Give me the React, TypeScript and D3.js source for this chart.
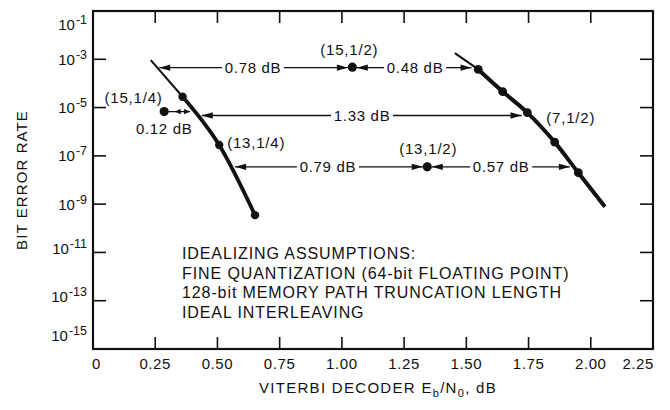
import React from "react";
import * as d3 from "d3";

// axes
const xTickValues = [0, 0.25, 0.5, 0.75, 1, 1.25, 1.5, 1.75, 2, 2.25];
const xTickLabels = ["0", "0.25", "0.50", "0.75", "1.00", "1.25", "1.50", "1.75", "2.00", "2.25"];
const yTickExponents = [-1, -3, -5, -7, -9, -11, -13, -15];

// rate 1/4 curve (Eb/N0 dB, bit error rate)
const quarterLead = [[0.232, 9.3e-4], [0.36, 2.8e-5]];
const quarterCurve = [[0.36, 2.8e-5], [0.507, 2.8e-7], [0.651, 3.5e-10]];
// rate 1/2, K=7 curve
const halfLead = [[1.454, 1.8e-3], [1.548, 3.8e-4]];
const halfCurve = [[1.548, 3.8e-4], [1.646, 4.6e-5], [1.745, 6.2e-6], [1.855, 3.7e-7], [1.95, 2.0e-8], [2.057, 7.8e-10]];
const halfCurveDots = [[1.548, 3.8e-4], [1.646, 4.6e-5], [1.745, 6.2e-6], [1.855, 3.7e-7], [1.95, 2.0e-8]];

// single simulated points
const singlePoints = [[1.042, 4.7e-4], [1.343, 3.5e-8], [0.286, 6.8e-6]];

// dB gap arrows: label, ber, from, to, label position
const gapLabels = ["0.78 dB", "0.48 dB", "1.33 dB", "0.79 dB", "0.57 dB"];
const gapBer = [4.5e-4, 4.5e-4, 4.7e-6, 3.5e-8, 3.5e-8];
const gapFrom = [0.266, 1.06, 0.437, 0.571, 1.361];
const gapTo = [1.024, 1.521, 1.722, 1.325, 1.916];
const gapText = [0.643, 1.294, 1.081, 0.944, 1.64];

const smallGap = { label: "0.12 dB", ber: 6.8e-6, from: 0.304, to: 0.39 };

const pointLabels = ["(15,1/4)", "(13,1/4)", "(15,1/2)", "(13,1/2)", "(7,1/2)"];
const pointLabelAt = [[0.36, 2.8e-5], [0.507, 2.8e-7], [1.042, 4.7e-4], [1.343, 3.5e-8], [1.745, 6.2e-6]];

const noteLines = [
  "IDEALIZING ASSUMPTIONS:",
  "FINE QUANTIZATION (64-bit FLOATING POINT)",
  "128-bit MEMORY PATH TRUNCATION LENGTH",
  "IDEAL INTERLEAVING",
];

const W = 670;
const H = 410;
const left = 93, right = 653, top = 11, bottom = 349;
const ink = "#111";
const font = "'Liberation Sans', Arial, Helvetica, sans-serif";

export default function App() {
  const x = d3.scaleLinear().domain([0, 2.25]).range([left, right]);
  const y = d3.scaleLog().domain([1e-1, 1e-15]).range([top, bottom]);

  const line = d3
    .line<number[]>()
    .x((d) => x(d[0]))
    .y((d) => y(d[1]))
    .curve(d3.curveMonotoneX);

  // label offsets in px, same order as pointLabels
  const labelLayout = [
    { dx: -20, dy: 6, anchor: "end" },
    { dx: 8, dy: 3, anchor: "start" },
    { dx: -3, dy: -12, anchor: "middle" },
    { dx: 1, dy: -13, anchor: "middle" },
    { dx: 19, dy: 10, anchor: "start" },
  ];

  const arrowHead = (px: number, py: number, dir: number, len = 11, hw = 3.2) =>
    `M${px},${py}L${px - dir * len},${py - hw}L${px - dir * len},${py + hw}Z`;

  const yLabelShift = (e: number) => (e === -1 ? 13 : e === -15 ? -14 : e <= -11 ? -4 : 0);

  return (
    <div style={{ position: "absolute", left: 0, top: 0, background: "#fff" }}>
      <svg width={W} height={H} style={{ display: "block", fontFamily: font }}>
        <rect width={W} height={H} fill="#fff" />

        {/* ticks, all inward */}
        {xTickValues.slice(1, -1).map((v) => (
          <g key={"xt" + v} stroke={ink} strokeWidth={1.6}>
            <line x1={x(v)} x2={x(v)} y1={bottom} y2={bottom - 12} />
            <line x1={x(v)} x2={x(v)} y1={top} y2={top + 12} />
          </g>
        ))}
        {yTickExponents.slice(1, -1).map((e) => (
          <g key={"yt" + e} stroke={ink} strokeWidth={1.6}>
            <line x1={left} x2={left + 13} y1={y(Math.pow(10, e))} y2={y(Math.pow(10, e))} />
            <line x1={right} x2={right - 13} y1={y(Math.pow(10, e))} y2={y(Math.pow(10, e))} />
          </g>
        ))}
        <rect x={left} y={top} width={right - left} height={bottom - top} fill="none" stroke={ink} strokeWidth={2.2} />

        {/* tick labels */}
        {xTickValues.map((v, i) => (
          <text
            key={"xl" + v}
            x={i === 0 ? x(v) - 1 : i === xTickValues.length - 1 ? x(v) + 1 : x(v)}
            y={bottom + 20}
            fontSize={15}
            letterSpacing={0.6}
            fill={ink}
            textAnchor={i === 0 ? "start" : i === xTickValues.length - 1 ? "end" : "middle"}
          >
            {xTickLabels[i]}
          </text>
        ))}
        {yTickExponents.map((e) => (
          <text
            key={"yl" + e}
            x={87}
            y={y(Math.pow(10, e)) + 5.5 + yLabelShift(e)}
            fontSize={15}
            fill={ink}
            textAnchor="end"
          >
            10
            <tspan dx={1} dy={-6} fontSize={12.5}>{"-" + Math.abs(e)}</tspan>
          </text>
        ))}

        {/* axis titles */}
        <text
          transform={`translate(26.5,${(top + bottom) / 2}) rotate(-90)`}
          textAnchor="middle"
          fontSize={15}
          letterSpacing={1.1}
          fill={ink}
        >
          BIT ERROR RATE
        </text>
        <text x={378} y={393} textAnchor="middle" fontSize={15} letterSpacing={1.3} fill={ink}>
          VITERBI DECODER E
          <tspan dy={4} fontSize={11}>b</tspan>
          <tspan dy={-4}>/N</tspan>
          <tspan dy={4} fontSize={11}>0</tspan>
          <tspan dy={-4}>, dB</tspan>
        </text>

        {/* curves */}
        <path d={line(quarterLead) || ""} fill="none" stroke={ink} strokeWidth={2} />
        <path d={line(quarterCurve) || ""} fill="none" stroke={ink} strokeWidth={3.8} />
        <path d={line(halfLead) || ""} fill="none" stroke={ink} strokeWidth={2} />
        <path d={line(halfCurve) || ""} fill="none" stroke={ink} strokeWidth={4} />
        {quarterCurve.map((d, i) => (
          <circle key={"qd" + i} cx={x(d[0])} cy={y(d[1])} r={4.2} fill={ink} />
        ))}
        {halfCurveDots.map((d, i) => (
          <circle key={"hd" + i} cx={x(d[0])} cy={y(d[1])} r={4.4} fill={ink} />
        ))}
        {singlePoints.map((d, i) => (
          <circle key={"sp" + i} cx={x(d[0])} cy={y(d[1])} r={4.6} fill={ink} />
        ))}

        {/* dB gap arrows */}
        {gapLabels.map((lab, i) => {
          const py = y(gapBer[i]);
          const x0 = x(gapFrom[i]);
          const x1 = x(gapTo[i]);
          const tx = x(gapText[i]);
          const half = 31;
          return (
            <g key={"gap" + i}>
              <line x1={x0} x2={tx - half} y1={py} y2={py} stroke={ink} strokeWidth={1.3} />
              <line x1={tx + half} x2={x1} y1={py} y2={py} stroke={ink} strokeWidth={1.3} />
              <path d={arrowHead(x0, py, -1)} fill={ink} />
              <path d={arrowHead(x1, py, 1)} fill={ink} />
              <text x={tx} y={py + 5.5} textAnchor="middle" fontSize={15} letterSpacing={0.7} fill={ink}>
                {lab}
              </text>
            </g>
          );
        })}
        <g>
          <line
            x1={x(smallGap.from)}
            x2={x(smallGap.to)}
            y1={y(smallGap.ber)}
            y2={y(smallGap.ber)}
            stroke={ink}
            strokeWidth={1.3}
          />
          <path d={arrowHead(x(smallGap.from) + 6, y(smallGap.ber), -1, 6, 2.6)} fill={ink} />
          <path d={arrowHead(x(smallGap.to), y(smallGap.ber), 1, 6, 2.6)} fill={ink} />
          <text
            x={x(singlePoints[2][0])}
            y={y(singlePoints[2][1]) + 22}
            textAnchor="middle"
            fontSize={15}
            letterSpacing={0.7}
            fill={ink}
          >
            {smallGap.label}
          </text>
        </g>

        {/* point labels */}
        {pointLabels.map((lab, i) => (
          <text
            key={"pl" + i}
            x={x(pointLabelAt[i][0]) + labelLayout[i].dx}
            y={y(pointLabelAt[i][1]) + labelLayout[i].dy}
            textAnchor={labelLayout[i].anchor as any}
            fontSize={15}
            letterSpacing={0.8}
            fill={ink}
          >
            {lab}
          </text>
        ))}

        {/* assumptions note */}
        <text x={182} y={259} fontSize={16} letterSpacing={0.9} fill={ink}>
          {noteLines.map((t, i) => (
            <tspan key={i} x={182} dy={i === 0 ? 0 : 19.6}>
              {t}
            </tspan>
          ))}
        </text>
      </svg>
    </div>
  );
}
